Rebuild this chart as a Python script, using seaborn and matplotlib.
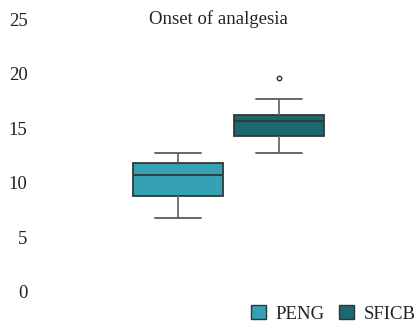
import matplotlib
matplotlib.use("Agg")
import matplotlib.pyplot as plt
from matplotlib.patches import Patch
import seaborn as sns
import pandas as pd

# Onset of analgesia (minutes) per group
peng_values = [6.75, 8.8, 10.75, 11.8, 12.75]
sficb_values = [12.75, 13.5, 14.25, 15.0, 15.65, 16.0, 16.25, 17.65, 19.6]
groups = ["PENG", "SFICB"]
colors = ["#35A1B5", "#1B696E"]
y_ticks = [0, 5, 10, 15, 20, 25]
title = "Onset of analgesia"

df = pd.DataFrame({
    "group": ["PENG"] * len(peng_values) + ["SFICB"] * len(sficb_values),
    "onset": peng_values + sficb_values,
})
df["x"] = "all"

sns.set_theme(style="white")
plt.rcParams["font.family"] = ["Liberation Serif", "DejaVu Serif"]

W, H = 418, 325
fig = plt.figure(figsize=(W / 100, H / 100), dpi=100)
ax = fig.add_axes([40 / W, 33.5 / H, 378 / W, 272 / H])

sns.boxplot(
    data=df, x="x", y="onset", hue="group", hue_order=groups,
    palette=colors, saturation=1, width=0.8, gap=0.1, linewidth=1.3,
    linecolor="#363636",
    whiskerprops=dict(color="#6a6a6a"), capprops=dict(color="#5a5a5a"),
    flierprops=dict(marker="o", markersize=3.2, markerfacecolor="white",
                    markeredgecolor="#333333", markeredgewidth=1.0),
    legend=False, ax=ax,
)

ax.set_xlim(-0.7465, 0.7505)
ax.set_ylim(0, 25)
ax.set_yticks(y_ticks)
ax.set_yticklabels([str(t) for t in y_ticks], fontsize=13.5, color="#222222")
ax.set_xticks([])
ax.set_xlabel("")
ax.set_ylabel("")
ax.tick_params(axis="y", length=0, pad=9)
for s in ax.spines.values():
    s.set_visible(False)

fig.text(218.6 / W, (H - 19.5) / H, title, ha="center", va="center",
         fontsize=13.5, color="#222222")

handles = [Patch(facecolor=c, edgecolor="#333333", linewidth=1.0, label=g)
           for g, c in zip(groups, colors)]
fig.legend(handles=handles, loc="center left", bbox_to_anchor=(251 / W, (H - 314) / H),
           ncol=2, frameon=False, fontsize=13.5, handlelength=0.78, handleheight=0.78,
           handletextpad=0.55, columnspacing=0.75, borderpad=0, borderaxespad=0,
           labelcolor="#222222")

fig.savefig("out.png", dpi=100, facecolor="white")
